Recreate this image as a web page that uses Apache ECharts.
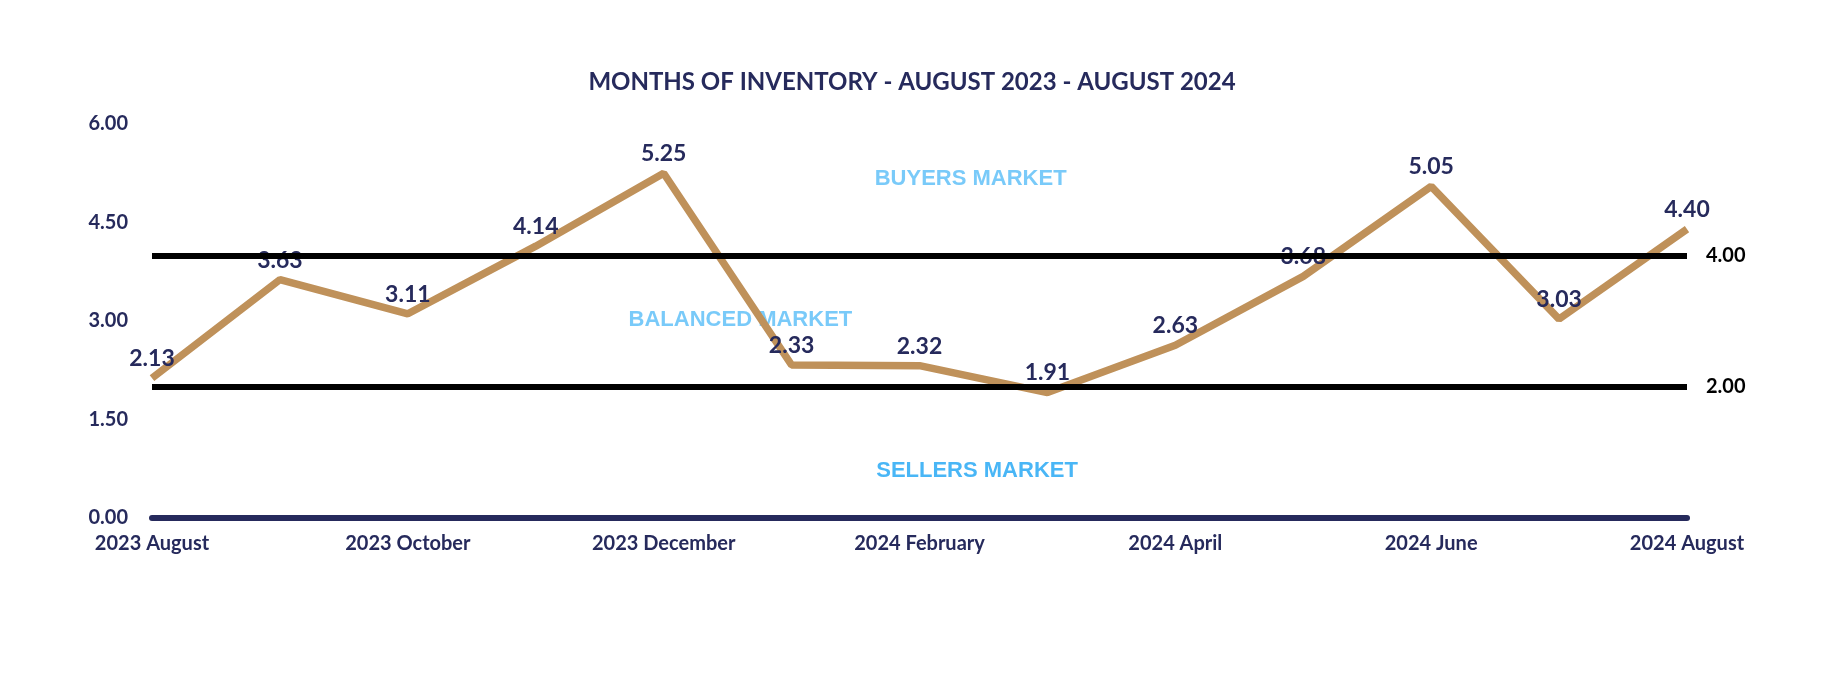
<!DOCTYPE html>
<html>
<head>
<meta charset="utf-8">
<script src="https://cdn.jsdelivr.net/npm/echarts@6/dist/echarts.min.js"></script>
<style>
html,body{margin:0;padding:0;background:#fff;}
#chart{width:1824px;height:676px;}
</style>
</head>
<body>
<div id="chart"></div>
<script>
const months = ['2023 August','2023 September','2023 October','2023 November','2023 December','2024 January','2024 February','2024 March','2024 April','2024 May','2024 June','2024 July','2024 August'];
const inventory = [2.13, 3.63, 3.11, 4.14, 5.25, 2.33, 2.32, 1.91, 2.63, 3.68, 5.05, 3.03, 4.40];
const thresholds = [4, 2];
const zoneNames = ['BUYERS MARKET', 'BALANCED MARKET', 'SELLERS MARKET'];
const titleText = 'MONTHS OF INVENTORY - AUGUST 2023 - AUGUST 2024';

const NAVY = '#262a5c';
const FONT = 'Lato, "Open Sans", sans-serif';
const zoneFont = '"Liberation Sans", Arial, sans-serif';

const chart = echarts.init(document.getElementById('chart'));
chart.setOption({
  backgroundColor: '#ffffff',
  animation: false,
  title: {
    text: titleText,
    left: 'center',
    top: 65,
    textStyle: { color: NAVY, fontFamily: FONT, fontWeight: 'bold', fontSize: 24 }
  },
  grid: { left: 152, right: 137, top: 124, bottom: 158, containLabel: false },
  xAxis: {
    type: 'value',
    min: 0, max: months.length - 1, interval: 2,
    axisLine: { show: true, onZero: true, lineStyle: { color: NAVY, width: 6 } },
    axisTick: { show: false },
    splitLine: { show: false },
    axisLabel: {
      formatter: v => months[v] || '',
      color: NAVY, fontFamily: FONT, fontWeight: 'bold', fontSize: 20, margin: 16
    }
  },
  yAxis: {
    type: 'value',
    min: 0, max: 6, interval: 1.5,
    axisLine: { show: false },
    axisTick: { show: false },
    splitLine: { show: false },
    axisLabel: {
      formatter: v => v.toFixed(2),
      color: NAVY, fontFamily: FONT, fontWeight: 'bold', fontSize: 20, margin: 24
    }
  },
  series: [
    {
      type: 'line',
      z: 3,
      data: inventory.map((v, i) => [i, v]),
      showSymbol: true,
      symbol: 'circle',
      symbolSize: 0.01,
      lineStyle: { color: '#bf915a', width: 7.5 },
      itemStyle: { color: '#bf915a' },
      label: {
        show: true, position: 'top', distance: 8,
        formatter: p => p.value[1].toFixed(2),
        color: NAVY, fontFamily: FONT, fontWeight: 'bold', fontSize: 23
      }
    },
    {
      type: 'line',
      z: 6,
      data: [],
      markLine: {
        silent: true,
        symbol: ['none', 'none'],
        lineStyle: { color: '#000', width: 6, type: 'solid' },
        label: {
          show: true, position: 'end', distance: 19,
          formatter: p => Number(p.value).toFixed(2),
          color: '#000', fontFamily: FONT, fontWeight: 'bold', fontSize: 20
        },
        data: thresholds.map(t => ({ yAxis: t }))
      }
    },
    {
      type: 'scatter',
      z: 2,
      symbolSize: 0,
      silent: true,
      data: [
        { value: [6.4, 5.16], name: zoneNames[0], label: { color: '#58bdf7' } },
        { value: [4.6, 3.02], name: zoneNames[1], label: { color: '#58bdf7' } },
        { value: [6.45, 0.72], name: zoneNames[2], label: { color: '#1ca4f4' } }
      ],
      label: {
        show: true, position: 'inside',
        formatter: p => p.name,
        fontFamily: zoneFont, fontWeight: 'bold', fontSize: 22
      }
    }
  ]
});
</script>
</body>
</html>
